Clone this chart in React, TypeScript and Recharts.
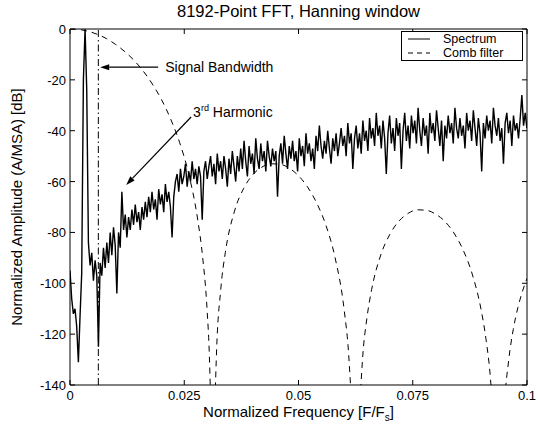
import { LineChart, Line, XAxis, YAxis, ReferenceLine, Legend, Label } from 'recharts';

const FONT = '"Liberation Sans", Arial, Helvetica, sans-serif';

// spectrum is plotted every 3rd bin of the 8192-point FFT
const BIN_STEP = 3 / 8192;

const spectrumDb = [
  -95, -106, -112, -110, -117, -131, -113, -96, -20, 0, -24,
  -84, -93, -88, -99, -91, -97, -125, -92, -97, -86,
  -94, -84, -92, -80, -89, -78, -85, -104, -80, -86,
  -64, -79, -73, -82, -74, -79, -71, -77, -69, -76,
  -72, -79, -70, -75, -68, -74, -66, -72, -64, -71,
  -67, -75, -63, -69, -65, -72, -61, -68, -64, -70,
  -82, -66, -60, -57, -64, -55, -61, -58, -53, -62,
  -56, -60, -52, -59, -55, -61, -54, -58, -75, -56,
  -52, -59, -54, -50, -58, -53, -61, -49, -56, -52,
  -59, -50, -55, -62, -51, -57, -48, -54, -60, -50,
  -56, -47, -55, -44, -52, -58, -46, -53, -49, -57,
  -43, -51, -55, -45, -52, -48, -56, -44, -50, -54,
  -47, -52, -48, -66, -50, -45, -53, -42, -49, -55,
  -46, -51, -44, -52, -48, -56, -43, -50, -46, -54,
  -41, -49, -45, -52, -47, -55, -42, -48, -38, -46,
  -51, -44, -49, -40, -47, -53, -43, -48, -41, -50,
  -45, -39, -46, -42, -50, -37, -45, -41, -55, -43,
  -38, -47, -41, -49, -36, -44, -40, -48, -35, -43,
  -39, -46, -33, -42, -38, -47, -36, -43, -57, -41,
  -34, -45, -39, -48, -35, -42, -37, -55, -40, -33,
  -44, -38, -47, -34, -41, -36, -45, -31, -40, -46,
  -35, -42, -38, -49, -33, -41, -37, -44, -32, -39,
  -46, -36, -52, -38, -43, -34, -41, -37, -45, -31,
  -39, -43, -35, -42, -38, -47, -33, -40, -36, -44,
  -32, -39, -46, -35, -41, -56, -37, -43, -34, -40,
  -36, -45, -31, -38, -42, -35, -44, -39, -53, -37,
  -33, -41, -36, -46, -34, -40, -37, -43, -35, -26,
  -38, -33, -39,
];

const combFreq = [
  0, 0.002, 0.004, 0.006, 0.008, 0.01, 0.012, 0.014, 0.016, 0.018,
  0.02, 0.022, 0.024, 0.026, 0.028, 0.029, 0.03, 0.0305, 0.031, 0.03125,
  0.0315, 0.032, 0.033, 0.034, 0.036, 0.038, 0.04, 0.042, 0.044, 0.046,
  0.048, 0.05, 0.052, 0.054, 0.056, 0.058, 0.06, 0.061, 0.062, 0.0625,
  0.063, 0.064, 0.065, 0.066, 0.068, 0.07, 0.072, 0.074, 0.076, 0.078,
  0.08, 0.082, 0.084, 0.086, 0.088, 0.09, 0.091, 0.092, 0.093, 0.09375,
  0.094, 0.095, 0.096, 0.097, 0.098, 0.099, 0.1,
];
const combDb = [
  0, -0.2, -0.9, -2.1, -3.8, -6.1, -8.9, -12.3, -16.5, -21.6,
  -27.7, -35.3, -44.7, -57.2, -75.6, -89.3, -110.5, -128.8, -167.5, -200,
  -167.4, -130.4, -102.2, -87.8, -71.6, -62.7, -57.3, -54.3, -53.0, -53.2,
  -54.8, -57.7, -62.2, -68.5, -77.2, -89.9, -110.6, -128.6, -166.8, -200,
  -167.7, -130.2, -113.3, -102.5, -88.9, -80.7, -75.5, -72.5, -71.1, -71.3,
  -72.8, -75.6, -80.2, -86.8, -96.3, -110.8, -121.6, -137.4, -167.1, -200,
  -200, -150.1, -130.2, -118.1, -109.6, -103.2, -98.1,
];

const xTicks = [0, 0.025, 0.05, 0.075, 0.1];
const yTicks = [0, -20, -40, -60, -80, -100, -120, -140];

const bandwidthFreq = 0.0062;
const bandwidthArrow = [{ x: 0.0193, y: -15 }, { x: 0.0066, y: -15 }];
const harmonicArrow = [{ x: 0.0265, y: -34.6 }, { x: 0.0123, y: -61.3 }];

const legendItems = [
  { name: 'Spectrum', dash: undefined },
  { name: 'Comb filter', dash: '5 4' },
];

const spectrum = spectrumDb.map((db, i) => ({ f: i * BIN_STEP, db }));
const comb = combFreq.map((f, i) => ({ f, db: combDb[i] }));

const TICK = 5;

const BottomTick = ({ x, y, payload }: any) => (
  <g>
    <line x1={x} y1={y} x2={x} y2={y - TICK} stroke="#000" />
    <text x={x} y={y + 15} textAnchor="middle" fontSize={13} fontFamily={FONT} fill="#000">
      {String(payload.value)}
    </text>
  </g>
);
const TopTick = ({ x, y }: any) => <line x1={x} y1={y} x2={x} y2={y + TICK} stroke="#000" />;
const LeftTick = ({ x, y, payload }: any) => (
  <g>
    <line x1={x} y1={y} x2={x + TICK} y2={y} stroke="#000" />
    <text x={x - 4} y={y + 5} textAnchor="end" fontSize={13} fontFamily={FONT} fill="#000">
      {String(payload.value)}
    </text>
  </g>
);
const RightTick = ({ x, y }: any) => <line x1={x} y1={y} x2={x - TICK} y2={y} stroke="#000" />;

function arrow(label: (x: number, y: number) => React.ReactNode) {
  return (p: any) => {
    const { x1, y1, x2, y2 } = p;
    const a = Math.atan2(y2 - y1, x2 - x1);
    const bx = x2 - 9 * Math.cos(a);
    const by = y2 - 9 * Math.sin(a);
    const nx = -Math.sin(a) * 3;
    const ny = Math.cos(a) * 3;
    return (
      <g>
        <line x1={x1} y1={y1} x2={bx} y2={by} stroke="#000" strokeWidth={1.2} />
        <polygon points={`${x2},${y2} ${bx + nx},${by + ny} ${bx - nx},${by - ny}`} fill="#000" />
        {label(x1, y1)}
      </g>
    );
  };
}

const LegendBox = () => (
  <div
    style={{
      border: '1px solid #000',
      background: '#fff',
      fontFamily: FONT,
      fontSize: 12.5,
      lineHeight: '14px',
      padding: '0 0 0 6px',
      boxSizing: 'border-box',
      width: 122,
      height: 30,
    }}
  >
    {legendItems.map((it) => (
      <div key={it.name} style={{ display: 'flex', alignItems: 'center', height: 14 }}>
        <svg width={22} height={14}>
          <line x1={0} y1={7} x2={22} y2={7} stroke="#000" strokeDasharray={it.dash} />
        </svg>
        <span style={{ marginLeft: 13 }}>{it.name}</span>
      </div>
    ))}
  </div>
);

export default function App() {
  return (
    <div style={{ position: 'absolute', left: 0, top: 0, background: '#fff' }}>
      <LineChart width={538} height={430} margin={{ top: 0, right: 0, bottom: 0, left: 0 }}>
        <XAxis
          dataKey="f"
          type="number"
          domain={[0, 0.1]}
          ticks={xTicks}
          interval={0}
          allowDataOverflow
          height={45}
          tickSize={0}
          tickMargin={0}
          tickLine={false}
          axisLine={{ stroke: '#000' }}
          tick={BottomTick}
        >
          <Label
            content={({ viewBox }: any) => (
              <text
                x={viewBox.x + viewBox.width / 2}
                y={viewBox.y + 32}
                textAnchor="middle"
                fontSize={15}
                fontFamily={FONT}
                fill="#000"
              >
                Normalized Frequency [F/F<tspan fontSize={10} dy={4}>s</tspan>
                <tspan dy={-4}>]</tspan>
              </text>
            )}
          />
        </XAxis>
        <XAxis
          xAxisId="t"
          orientation="top"
          dataKey="f"
          type="number"
          domain={[0, 0.1]}
          ticks={xTicks}
          interval={0}
          allowDataOverflow
          height={29}
          tickSize={0}
          tickMargin={0}
          tickLine={false}
          axisLine={{ stroke: '#000' }}
          tick={TopTick}
        >
          <Label
            content={({ viewBox }: any) => (
              <text
                x={viewBox.x + viewBox.width / 2}
                y={viewBox.y + 17}
                textAnchor="middle"
                fontSize={16.5}
                fontFamily={FONT}
                fill="#000"
              >
                8192-Point FFT, Hanning window
              </text>
            )}
          />
        </XAxis>
        <YAxis
          type="number"
          domain={[-140, 0]}
          ticks={yTicks}
          interval={0}
          allowDataOverflow
          width={70}
          tickSize={0}
          tickMargin={0}
          tickLine={false}
          axisLine={{ stroke: '#000' }}
          tick={LeftTick}
        >
          <Label
            content={({ viewBox }: any) => {
              const cx = viewBox.x + 16;
              const cy = viewBox.y + viewBox.height / 2;
              return (
                <text
                  x={cx}
                  y={cy}
                  transform={`rotate(-90 ${cx} ${cy})`}
                  textAnchor="middle"
                  dominantBaseline="central"
                  fontSize={15}
                  fontFamily={FONT}
                  fill="#000"
                >
                  Normalized Amplitude (A/MSA) [dB]
                </text>
              );
            }}
          />
        </YAxis>
        <YAxis
          yAxisId="r"
          orientation="right"
          type="number"
          domain={[-140, 0]}
          ticks={yTicks}
          interval={0}
          allowDataOverflow
          width={11}
          tickSize={0}
          tickMargin={0}
          tickLine={false}
          axisLine={{ stroke: '#000' }}
          tick={RightTick}
        />
        <ReferenceLine x={bandwidthFreq} stroke="#000" strokeDasharray="7 3 1.5 3" />
        <Line
          data={comb}
          dataKey="db"
          name="Comb filter"
          type="monotone"
          stroke="#000"
          strokeWidth={1}
          strokeDasharray="6 5"
          dot={false}
          isAnimationActive={false}
        />
        <Line
          data={spectrum}
          dataKey="db"
          name="Spectrum"
          type="linear"
          stroke="#000"
          strokeWidth={1.4}
          dot={false}
          isAnimationActive={false}
        />
        <ReferenceLine
          segment={bandwidthArrow}
          shape={arrow((x, y) => (
            <text x={x + 7} y={y + 5} fontSize={14} fontFamily={FONT} fill="#000">
              Signal Bandwidth
            </text>
          ))}
        />
        <ReferenceLine
          segment={harmonicArrow}
          shape={arrow((x, y) => (
            <text x={x + 2} y={y} fontSize={14} fontFamily={FONT} fill="#000">
              3<tspan fontSize={9} dy={-6}>rd</tspan>
              <tspan dy={6}> Harmonic</tspan>
            </text>
          ))}
        />
        <Legend
          layout="horizontal"
          verticalAlign="middle"
          align="center"
          wrapperStyle={{ left: 401, top: 31, width: 122, height: 30 }}
          content={LegendBox}
        />
      </LineChart>
    </div>
  );
}
